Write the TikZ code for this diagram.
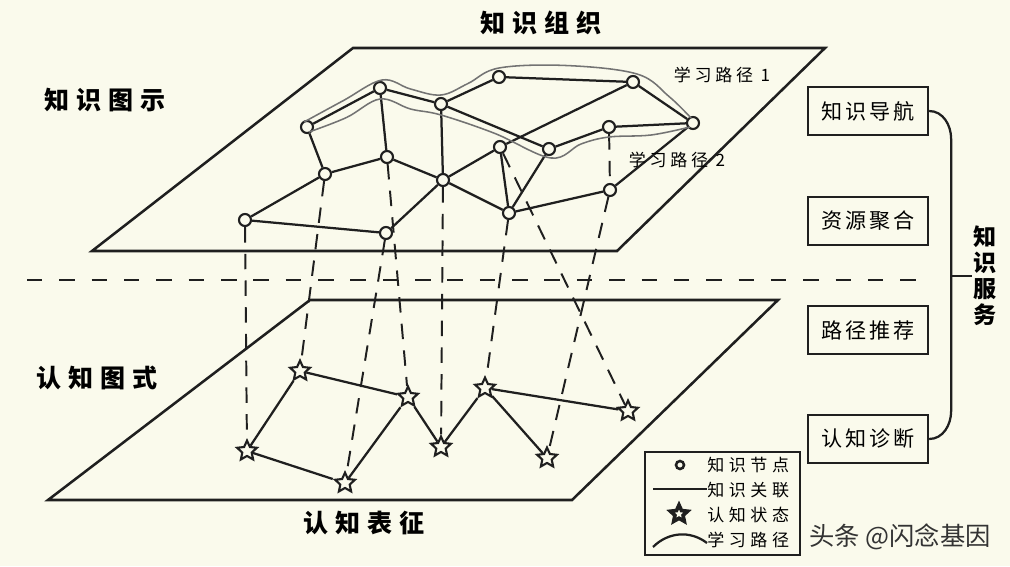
\documentclass[tikz,border=0pt]{standalone}
\usepackage{fontspec}
\setmainfont{Noto Sans CJK SC}
\usetikzlibrary{shapes.geometric,calc}
\definecolor{paper}{RGB}{250,250,236}
\colorlet{ink}{black!88}
\colorlet{pgr}{black!55}
\tikzset{
    knode/.style={circle,draw=ink,fill=paper,line width=1.5pt,inner sep=0pt,minimum size=0.3cm},
    cstar/.style={star,star points=5,star point ratio=2.1,draw=ink,fill=paper,line width=1.5pt,inner sep=0pt,minimum size=0.52cm},
    link/.style={ink,line width=1.6pt},
    proj/.style={ink,line width=1.4pt,dash pattern=on 11pt off 8pt},
    plane/.style={ink,line width=1.8pt,line join=miter},
    lpath/.style={pgr,line width=1.1pt},
    svbox/.style={draw=ink,line width=1.6pt,minimum width=3cm,minimum height=1.2cm,inner sep=0pt,
        font=\fontsize{15pt}{17pt}\selectfont\addfontfeature{LetterSpace=14}},
    title/.style={font=\fontsize{17.8pt}{20pt}\selectfont\bfseries\addfontfeature{LetterSpace=28}},
    plabel/.style={font=\fontsize{12.1pt}{14pt}\selectfont\addfontfeature{LetterSpace=22}},
    legtxt/.style={anchor=west,inner sep=0pt,font=\fontsize{12.1pt}{14pt}\selectfont\addfontfeature{LetterSpace=27}}
}
\begin{document}
\begin{tikzpicture}[x=0.025cm,y=-0.025cm]
            \fill[paper] (0,0) rectangle (1010,566);
            \useasboundingbox (0,0) rectangle (1010,566);
            % two planes and the dividing line
            \draw[plane] (353,48) -- (825,48) -- (617,251) -- (92,251) -- cycle;
            \draw[plane] (310,300) -- (778,300) -- (572,500) -- (48,500) -- cycle;
            \draw[ink,line width=1.5pt,dash pattern=on 11pt off 12pt] (27,280) -- (920,280);
            % knowledge nodes
            \node [knode] (n1) at (307,127) {};
            \node [knode] (n2) at (380,88) {};
            \node [knode] (n3) at (441,104) {};
            \node [knode] (n4) at (499,77) {};
            \node [knode] (n5) at (633,82) {};
            \node [knode] (n6) at (693,123) {};
            \node [knode] (n7) at (609,127) {};
            \node [knode] (n8) at (549,149) {};
            \node [knode] (n9) at (500,147) {};
            \node [knode] (n10) at (387,157) {};
            \node [knode] (n11) at (325,174) {};
            \node [knode] (n12) at (443,180) {};
            \node [knode] (n13) at (610,190) {};
            \node [knode] (n14) at (509,213) {};
            \node [knode] (n15) at (245,220) {};
            \node [knode] (n16) at (386,233) {};
            % cognitive states
            \node [cstar] (s1) at (247,451) {};
            \node [cstar] (s2) at (300,371) {};
            \node [cstar] (s3) at (345,483) {};
            \node [cstar] (s4) at (408,397) {};
            \node [cstar] (s5) at (441,447) {};
            \node [cstar] (s6) at (485,388) {};
            \node [cstar] (s7) at (547,458) {};
            \node [cstar] (s8) at (628,411) {};
            \foreach \a/\b in {1/2,2/3,3/4,4/5,5/6,3/8,8/7,7/6,1/11,2/10,11/10,10/12,12/9,12/14,
                11/15,15/16,16/12,3/12,9/14,14/13,13/6,5/9,8/14} {
                \draw[link] (n\a) -- (n\b);
            }
            \foreach \a/\b in {1/2,2/4,1/3,3/4,4/5,5/6,6/7,6/8} {
                \draw[link] (s\a) -- (s\b);
            }
            \foreach \a/\b in {15/1,11/2,16/3,10/4,12/5,14/6,13/7,9/8} {
                \draw[proj] (n\a) -- (s\b);
            }
            \draw[proj] (n7) -- (n13);
            % learning paths
            \coordinate (u1) at ($(n1)+(-3,-5)$);
            \coordinate (u2) at ($(n1)!0.5!(n2)+(0,-7)$);
            \coordinate (u3) at ($(n2)+(2,-8)$);
            \coordinate (u4) at ($(n2)!0.5!(n3)+(0,-7)$);
            \coordinate (u5) at ($(n3)+(0,-9)$);
            \coordinate (u6) at ($(n3)!0.5!(n4)+(-2,-7)$);
            \coordinate (u7) at ($(n4)+(0,-9)$);
            \coordinate (u8) at ($(n4)!0.5!(n5)+(0,-14)$);
            \coordinate (u9) at ($(n5)+(4,-8)$);
            \coordinate (u10) at ($(n5)!0.5!(n6)+(6,-6)$);
            \coordinate (u11) at ($(n6)+(-2,-5)$);
            \draw[lpath] plot[smooth,tension=0.6] coordinates {(u1) (u2) (u3) (u4) (u5) (u6) (u7) (u8) (u9) (u10) (u11)};
            \coordinate (v1) at ($(n1)+(2,5)$);
            \coordinate (v2) at ($(n1)!0.5!(n2)+(3,10)$);
            \coordinate (v3) at ($(n2)+(0,11)$);
            \coordinate (v4) at ($(n2)!0.5!(n3)+(0,13)$);
            \coordinate (v5) at ($(n3)+(0,11)$);
            \coordinate (v6) at ($(n3)!0.5!(n8)+(0,7)$);
            \coordinate (v7) at ($(n8)+(2,9)$);
            \coordinate (v8) at ($(n8)!0.5!(n7)+(2,6)$);
            \coordinate (v9) at ($(n7)+(0,10)$);
            \coordinate (v10) at ($(n7)!0.5!(n6)+(0,10)$);
            \coordinate (v11) at ($(n6)+(-3,4)$);
            \draw[lpath] plot[smooth,tension=0.6] coordinates {(v1) (v2) (v3) (v4) (v5) (v6) (v7) (v8) (v9) (v10) (v11)};
            \node [plabel] (lp1) at (722,75) {学习路径 1};
            \node [plabel] (lp2) at (677,160) {学习路径 2};
            % titles
            \node [title] (torg) at (541,23) {知识组织};
            \node [title] (tshow) at (105,100) {知识图示};
            \node [title] (tsch) at (97,378) {认知图式};
            \node [title] (trep) at (364,523) {认知表征};
            % services
            \node [svbox] (nav) at (868,111) {知识导航};
            \node [svbox] (agg) at (868,221) {资源聚合};
            \node [svbox] (rec) at (868,330) {路径推荐};
            \node [svbox] (diag) at (868,439) {认知诊断};
            \node [align=center,inner sep=1pt,font=\fontsize{16.4pt}{18.5pt}\selectfont\bfseries] (svc) at (985,276) {知\\识\\服\\务};
            \coordinate (brc) at (950,276);
            \draw[link] (nav.east) to[out=0,in=90] ($(nav.east)+(22,28)$) -- ($(diag.east)+(22,-28)$) to[out=-90,in=0] (diag.east);
            \draw[link] (brc) -- (svc.west);
            % legend
            \node [draw=ink,line width=1.6pt,minimum width=3.875cm,minimum height=2.575cm] (leg) at (722.5,503.5) {};
            \node [knode,minimum size=0.2cm,line width=1.8pt] (lgn) at (680,465) {};
            \coordinate (lgl1) at (653,489);
            \coordinate (lgl2) at (707,489);
            \draw[link] (lgl1) -- (lgl2);
            \node [cstar,minimum size=0.45cm,line width=2.6pt] (lgs) at (679,514) {};
            \coordinate (lgp1) at (653,547);
            \coordinate (lgp2) at (707,543);
            \draw[link] (lgp1) .. controls (668,532) and (690,530) .. (lgp2);
            \node [legtxt] (lt1) at (707,465) {知识节点};
            \node [legtxt] (lt2) at (707,490) {知识关联};
            \node [legtxt] (lt3) at (707,515) {认知状态};
            \node [legtxt] (lt4) at (707,540) {学习路径};
            \node [font=\fontsize{18pt}{20pt}\selectfont,text=black!80] (wm) at (900,537) {头条 @闪念基因};
\end{tikzpicture}
\end{document}
